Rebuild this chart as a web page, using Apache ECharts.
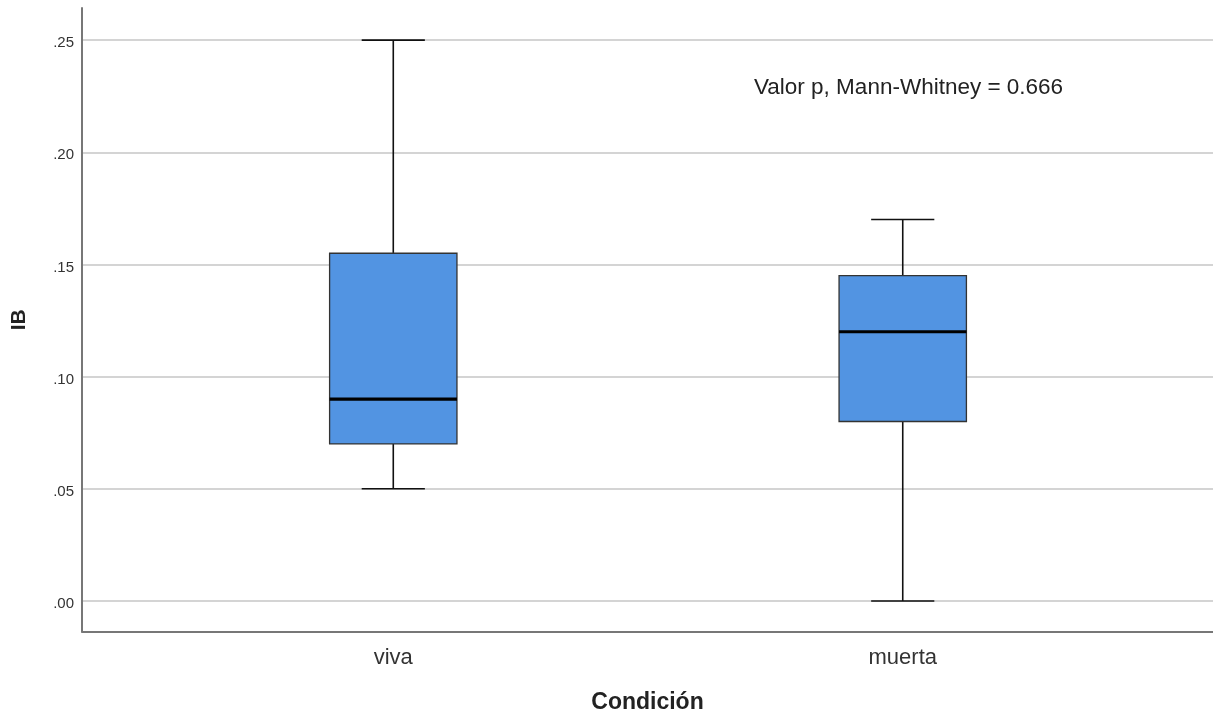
<!DOCTYPE html>
<html><head><meta charset="utf-8">
<script src="https://cdn.jsdelivr.net/npm/echarts@6/dist/echarts.min.js"></script>
<style>html,body{margin:0;padding:0;background:#fff}#c{width:1213px;height:717px}</style>
</head><body><div id="c"></div>
<script>
const categories = ['viva', 'muerta'];
const categoryPos = [1, 2];
// [min, Q1, median, Q3, max]
const viva = [0.05, 0.07, 0.09, 0.155, 0.25];
const muerta = [0.00, 0.08, 0.12, 0.145, 0.17];
const yTicks = [0, 0.05, 0.10, 0.15, 0.20, 0.25];
const annotation = 'Valor p, Mann-Whitney = 0.666';

const boxes = [[categoryPos[0]].concat(viva), [categoryPos[1]].concat(muerta)];
const BOX_W = 0.25, CAP_W = 0.124;

const chart = echarts.init(document.getElementById('c'));
chart.setOption({
  animation: false,
  textStyle: { fontFamily: '"Liberation Sans", Arial, sans-serif' },
  title: {
    text: annotation, left: 749, top: 71,
    textStyle: { fontSize: 22.5, fontWeight: 'normal', color: '#222', fontFamily: '"Liberation Sans", Arial, sans-serif' }
  },
  grid: { left: 82, right: 0, top: 8, bottom: 85.5, outerBoundsMode: 'none', containLabel: false },
  xAxis: {
    type: 'value', min: 0.389, max: 2.609,
    name: 'Condición', nameLocation: 'middle', nameGap: 60,
    nameTextStyle: { fontSize: 23, fontWeight: 'bold', color: '#222' },
    axisLine: { show: true, onZero: false, lineStyle: { color: '#777', width: 2 } },
    axisTick: { show: false },
    splitLine: { show: false },
    axisLabel: {
      customValues: categoryPos, margin: 15, fontSize: 22, color: '#333',
      formatter: v => categories[categoryPos.indexOf(Math.round(v))] || ''
    }
  },
  yAxis: {
    type: 'value', min: -0.0136, max: 0.2643,
    name: 'IB', nameLocation: 'middle', nameGap: 52, nameRotate: 90,
    nameTextStyle: { fontSize: 21, fontWeight: 'bold', color: '#222' },
    axisLine: { show: true, onZero: false, lineStyle: { color: '#777', width: 2 } },
    axisTick: { show: false, customValues: yTicks },
    axisLabel: {
      customValues: yTicks, margin: 8, fontSize: 15, color: '#333',
      verticalAlign: 'top', lineHeight: 6,
      formatter: v => v.toFixed(2).replace(/^0/, '')
    },
    splitLine: { show: true, lineStyle: { color: '#d4d4d4', width: 2 } }
  },
  series: [{
    type: 'custom',
    data: boxes,
    encode: { x: 0, y: [1, 2, 3, 4, 5] },
    renderItem: function (params, api) {
      const x = api.value(0);
      const pMin = api.coord([x, api.value(1)]);
      const pQ1 = api.coord([x, api.value(2)]);
      const pMed = api.coord([x, api.value(3)]);
      const pQ3 = api.coord([x, api.value(4)]);
      const pMax = api.coord([x, api.value(5)]);
      const bw = api.size([BOX_W, 0])[0];
      const cw = api.size([CAP_W, 0])[0];
      const cx = pMed[0];
      const ls = { stroke: '#111', lineWidth: 1.6 };
      return {
        type: 'group',
        children: [
          { type: 'line', shape: { x1: cx, y1: pQ3[1], x2: cx, y2: pMax[1] }, style: ls },
          { type: 'line', shape: { x1: cx, y1: pQ1[1], x2: cx, y2: pMin[1] }, style: ls },
          { type: 'line', shape: { x1: cx - cw / 2, y1: pMax[1], x2: cx + cw / 2, y2: pMax[1] }, style: ls },
          { type: 'line', shape: { x1: cx - cw / 2, y1: pMin[1], x2: cx + cw / 2, y2: pMin[1] }, style: ls },
          { type: 'rect', shape: { x: cx - bw / 2, y: pQ3[1], width: bw, height: pQ1[1] - pQ3[1] },
            style: { fill: '#5294e2', stroke: '#333', lineWidth: 1.3 } },
          { type: 'line', shape: { x1: cx - bw / 2, y1: pMed[1], x2: cx + bw / 2, y2: pMed[1] },
            style: { stroke: '#000', lineWidth: 3.2 } }
        ]
      };
    }
  }]
});
</script></body></html>
